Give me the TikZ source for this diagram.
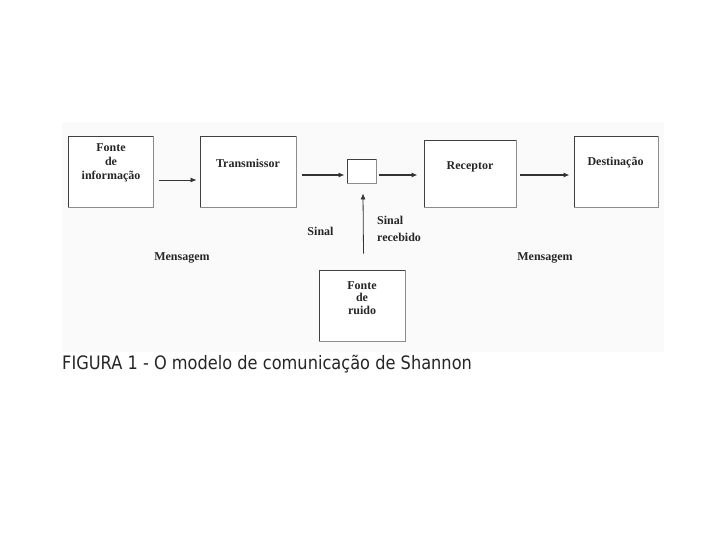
\documentclass[tikz,border=0pt]{standalone}
\usepackage{fontspec}
\setmainfont{Liberation Serif}
\newfontfamily\capfont{DejaVu Sans}
\usetikzlibrary{arrows.meta}
\begin{document}
\begin{tikzpicture}[x=1pt,y=-1pt,
  boxn/.style={draw=black!75,line width=0.9pt,inner sep=0pt,fill=white},
  lbl/.style={font=\fontsize{12}{14}\selectfont\bfseries,align=center,inner sep=0pt,text=black!85},
  arr/.style={draw=black!80,line width=1.1pt,-{Latex[length=6pt,width=5pt]}},
  arrthin/.style={draw=black!80,line width=0.8pt,-{Latex[length=6pt,width=5pt]}}]
\useasboundingbox (0,0) rectangle (720,540);
\fill[white] (0,0) rectangle (720,540);
\fill[black!2] (62,122) rectangle (664,352);
% boxes
\node[boxn,minimum width=85pt,minimum height=71pt] (src) at (110.5,171.5) {};
\node[boxn,minimum width=96pt,minimum height=71pt] (tx) at (248,171.5) {};
\node[boxn,minimum width=29pt,minimum height=24pt] (mix) at (361.5,171) {};
\node[boxn,minimum width=92pt,minimum height=67pt] (rx) at (470,173.5) {};
\node[boxn,minimum width=84pt,minimum height=71pt] (dst) at (616,171.5) {};
\node[boxn,minimum width=86pt,minimum height=71pt] (noise) at (362,305.5) {};
\foreach \n in {src,tx,mix,rx,dst,noise}
  \draw[black!45,line width=1.4pt] (\n.north east) -- (\n.south east) -- (\n.south west);
% texts
\node[lbl] (tsrc) at (111,163) {Fonte\\de\\informação};
\node[lbl] (ttx) at (248,163) {Transmissor};
\node[lbl] (trx) at (470,167) {Receptor};
\node[lbl] (tdst) at (615.5,163) {Destinação};
\node[lbl,font=\fontsize{12}{12.5}\selectfont\bfseries] (tnoise) at (362,298) {Fonte\\de\\ruido};
\node[lbl] (sinal) at (320.5,231) {Sinal};
\node[lbl,font=\fontsize{12}{16.5}\selectfont\bfseries,align=left,anchor=west] (sinalr) at (377,229) {Sinal\\recebido};
\node[lbl] (msg1) at (182,258) {Mensagem};
\node[lbl] (msg2) at (545,258) {Mensagem};
% arrows
\draw[arrthin] ([xshift=6pt,yshift=-8.5pt]src.east) -- ([xshift=-3pt,yshift=-8.5pt]tx.west);
\draw[arr] ([xshift=6pt,yshift=-3.5pt]tx.east) -- ([xshift=-2pt,yshift=-4pt]mix.west);
\draw[arr] ([xshift=3pt,yshift=-4pt]mix.east) -- ([xshift=-6pt,yshift=-1.5pt]rx.west);
\draw[arr] ([xshift=4pt,yshift=-1.5pt]rx.east) -- ([xshift=-4pt,yshift=-3.5pt]dst.west);
\draw[arrthin] ([xshift=1.5pt,yshift=16pt]noise.north) -- ([xshift=1.5pt,yshift=-10pt]mix.south);
% caption
\node[anchor=base west,inner sep=0pt,font=\capfont\fontsize{18.5}{20}\selectfont,text=black!85] (cap) at (62,369) {\scalebox{0.876}[1]{FIGURA 1 - O modelo de comunicação de Shannon}};
\end{tikzpicture}
\end{document}
